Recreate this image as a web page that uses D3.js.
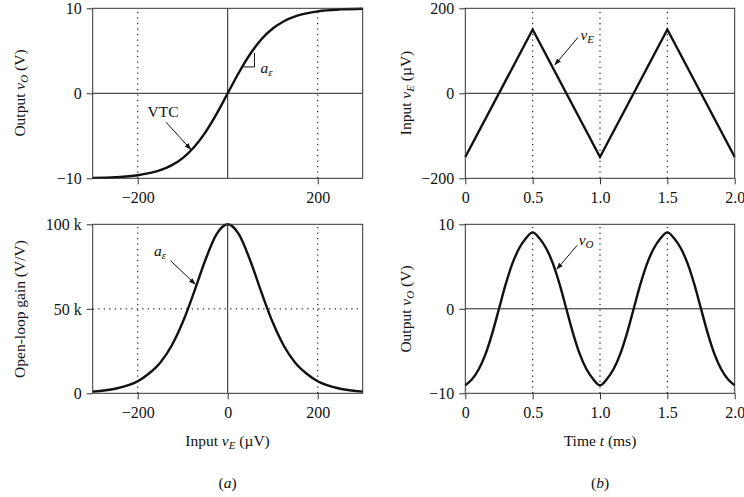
<!DOCTYPE html>
<html>
<head>
<meta charset="utf-8">
<script src="https://cdn.jsdelivr.net/npm/d3@7"></script>
<style>
  body { margin: 0; background: #fff; }
  svg { font-family: "Liberation Serif", "Times New Roman", serif; }
  .frame { fill: none; stroke: #333; stroke-width: 1; }
  .tick line { stroke: #333; }
  .tick text { font-size: 16px; fill: #111; font-family: "Liberation Serif", serif; }
  .dotted { stroke: #333; stroke-width: 1.3; stroke-dasharray: 1.3 4.2; }
  .zero { stroke: #222; stroke-width: 1; }
  .curve { fill: none; stroke: #111; stroke-width: 2.4; }
  .label { font-size: 15.5px; fill: #111; }
</style>
</head>
<body>
<div id="chart"></div>
<script>
// VTC (a) top: input vE (µV) -> output vO (V)
const vtcInput = [-300, -250, -200, -175, -150, -125, -100, -75, -50, -25, 0, 25, 50, 75, 100, 125, 150, 175, 200, 250, 300];
const vtcOutput = [-9.95, -9.87, -9.64, -9.4, -9.05, -8.48, -7.62, -6.35, -4.62, -2.45, 0, 2.45, 4.62, 6.35, 7.62, 8.48, 9.05, 9.4, 9.64, 9.87, 9.95];

// open-loop gain (k V/V) at the same inputs
const gainValues = [1.0, 2.7, 7.1, 11.7, 18.1, 28.0, 42.0, 59.7, 78.6, 94.0, 100, 94.0, 78.6, 59.7, 42.0, 28.0, 18.1, 11.7, 7.1, 2.7, 1.0];

// panel (b): triangular input and resulting output vs time (ms)
const triTime = [0, 0.5, 1.0, 1.5, 2.0];
const triInput = [-150, 150, -150, 150, -150];
const outTime = [0, 0.05, 0.1, 0.15, 0.2, 0.25, 0.3, 0.35, 0.4, 0.45, 0.5,
                 0.55, 0.6, 0.65, 0.7, 0.75, 0.8, 0.85, 0.9, 0.95, 1.0,
                 1.05, 1.1, 1.15, 1.2, 1.25, 1.3, 1.35, 1.4, 1.45, 1.5,
                 1.55, 1.6, 1.65, 1.7, 1.75, 1.8, 1.85, 1.9, 1.95, 2.0];
const outValues = [-9.05, -8.34, -7.16, -5.37, -2.91, 0, 2.91, 5.37, 7.16, 8.34, 9.05,
                   8.34, 7.16, 5.37, 2.91, 0, -2.91, -5.37, -7.16, -8.34, -9.05,
                   -8.34, -7.16, -5.37, -2.91, 0, 2.91, 5.37, 7.16, 8.34, 9.05,
                   8.34, 7.16, 5.37, 2.91, 0, -2.91, -5.37, -7.16, -8.34, -9.05];

const inputTicks = [-200, 200];
const inputTicksBottom = [-200, 0, 200];
const timeTicks = [0, 0.5, 1.0, 1.5, 2.0];

const width = 744, height = 497;
const svg = d3.select('#chart').append('svg')
    .attr('width', width)
    .attr('height', height);

const defs = svg.append('defs');
defs.append('marker')
    .attr('id', 'arrow')
    .attr('viewBox', '0 0 10 10')
    .attr('refX', 9).attr('refY', 5)
    .attr('markerWidth', 7).attr('markerHeight', 7)
    .attr('markerUnits', 'userSpaceOnUse')
    .attr('orient', 'auto')
  .append('path')
    .attr('d', 'M0,1.5 L10,5 L0,8.5 Z')
    .attr('fill', '#111');

// left / right columns, top / bottom rows
const colA = [92.7, 362.7], colB = [465.3, 734.7];
const rowTop = [178.3, 8.3], rowBot = [393.3, 224.3];

function panel(xRange, yRange, xDomain, yDomain, xTicks, yTicks, yFormat, xFormat) {
    const x = d3.scaleLinear().domain(xDomain).range(xRange);
    const y = d3.scaleLinear().domain(yDomain).range(yRange);
    const g = svg.append('g');

    g.append('g')
        .attr('transform', 'translate(0,' + yRange[0] + ')')
        .call(d3.axisBottom(x).tickValues(xTicks).tickSize(6).tickPadding(7).tickFormat(xFormat))
        .attr('font-family', null).attr('font-size', null)
        .call(a => a.select('.domain').remove());

    g.append('g')
        .attr('transform', 'translate(' + xRange[0] + ',0)')
        .call(d3.axisLeft(y).tickValues(yTicks).tickSize(6).tickPadding(5).tickFormat(yFormat))
        .attr('font-family', null).attr('font-size', null)
        .call(a => a.select('.domain').remove())
        .selectAll('.tick text').attr('dy', '0.34em');

    return { g, x, y };
}

function finish(p) {
    const [x0, x1] = p.x.range(), [y0, y1] = p.y.range();
    p.g.append('rect')
        .attr('class', 'frame')
        .attr('x', x0).attr('y', y1)
        .attr('width', x1 - x0).attr('height', y0 - y1);
}

function vline(p, v, cls) {
    p.g.append('line').attr('class', cls)
        .attr('x1', p.x(v)).attr('x2', p.x(v))
        .attr('y1', p.y.range()[0]).attr('y2', p.y.range()[1]);
}
function hline(p, v, cls) {
    p.g.append('line').attr('class', cls)
        .attr('x1', p.x.range()[0]).attr('x2', p.x.range()[1])
        .attr('y1', p.y(v)).attr('y2', p.y(v));
}

function arrow(p, from, to) {
    p.g.append('line')
        .attr('x1', p.x(from[0])).attr('y1', p.y(from[1]))
        .attr('x2', p.x(to[0])).attr('y2', p.y(to[1]))
        .attr('stroke', '#111').attr('stroke-width', 1)
        .attr('marker-end', 'url(#arrow)');
}

// label like "v_E" with italic main letter and subscript
function subLabel(sel, main, sub, subItalic) {
    sel.append('tspan').attr('font-style', 'italic').text(main);
    sel.append('tspan').attr('font-size', '11px').attr('dy', 3)
        .attr('font-style', subItalic ? 'italic' : null).text(sub);
}

function yTitle(x, yMid, build) {
    const t = svg.append('text').attr('class', 'label')
        .attr('transform', 'translate(' + x + ',' + yMid + ') rotate(-90)')
        .attr('text-anchor', 'middle');
    build(t);
}

const fmtTime = d => d === 0 ? '0' : d3.format('.1f')(d);
const fmtMinus = d => d < 0 ? '\u2212' + Math.abs(d) : String(d);

// ---- (a) top: VTC ----
const pA1 = panel(colA, rowTop, [-300, 300], [-10, 10], inputTicks, [-10, 0, 10], fmtMinus, fmtMinus);
inputTicks.forEach(v => vline(pA1, v, 'dotted'));
vline(pA1, 0, 'zero');
hline(pA1, 0, 'zero');
pA1.g.append('path')
    .datum(d3.zip(vtcInput, vtcOutput))
    .attr('class', 'curve')
    .attr('d', d3.line().x(d => pA1.x(d[0])).y(d => pA1.y(d[1])).curve(d3.curveMonotoneX));
finish(pA1);
pA1.g.append('text').attr('class', 'label')
    .attr('x', pA1.x(-178)).attr('y', pA1.y(-2.75)).text('VTC');
arrow(pA1, [-137, -3.4], [-82, -6.6]);
pA1.g.append('path')
    .attr('d', d3.line()([[pA1.x(35), pA1.y(3.1)], [pA1.x(59.5), pA1.y(3.1)], [pA1.x(59.5), pA1.y(4.75)]]))
    .attr('fill', 'none').attr('stroke', '#111').attr('stroke-width', 1);
subLabel(pA1.g.append('text').attr('class', 'label').attr('font-size', '16px')
    .attr('x', pA1.x(73)).attr('y', pA1.y(2.4)), 'a', '\u03b5', true);

// ---- (a) bottom: gain ----
const pA2 = panel(colA, rowBot, [-300, 300], [0, 100], inputTicksBottom, [0, 50, 100],
    d => d === 0 ? '0' : d + ' k', fmtMinus);
inputTicks.forEach(v => vline(pA2, v, 'dotted'));
hline(pA2, 50, 'dotted');
vline(pA2, 0, 'zero');
pA2.g.append('path')
    .datum(d3.zip(vtcInput, gainValues))
    .attr('class', 'curve')
    .attr('d', d3.line().x(d => pA2.x(d[0])).y(d => pA2.y(d[1])).curve(d3.curveMonotoneX));
finish(pA2);
subLabel(pA2.g.append('text').attr('class', 'label').attr('font-size', '16px')
    .attr('x', pA2.x(-164)).attr('y', pA2.y(81.5)), 'a', '\u03b5', true);
arrow(pA2, [-127, 78.5], [-72, 64.5]);

// ---- (b) top: triangular input ----
const pB1 = panel(colB, rowTop, [0, 2], [-200, 200], timeTicks, [-200, 0, 200], fmtMinus, fmtTime);
[0.5, 1.0, 1.5].forEach(v => vline(pB1, v, 'dotted'));
hline(pB1, 0, 'zero');
pB1.g.append('path')
    .datum(d3.zip(triTime, triInput))
    .attr('class', 'curve')
    .attr('stroke-linejoin', 'miter')
    .attr('d', d3.line().x(d => pB1.x(d[0])).y(d => pB1.y(d[1])));
finish(pB1);
subLabel(pB1.g.append('text').attr('class', 'label').attr('font-size', '16px')
    .attr('x', pB1.x(0.855)).attr('y', pB1.y(125)), 'v', 'E', true);
arrow(pB1, [0.835, 131], [0.665, 67]);

// ---- (b) bottom: output ----
const pB2 = panel(colB, rowBot, [0, 2], [-10, 10], timeTicks, [-10, 0, 10], fmtMinus, fmtTime);
[0.5, 1.0, 1.5].forEach(v => vline(pB2, v, 'dotted'));
hline(pB2, 0, 'zero');
pB2.g.append('path')
    .datum(d3.zip(outTime, outValues))
    .attr('class', 'curve')
    .attr('d', d3.line().x(d => pB2.x(d[0])).y(d => pB2.y(d[1])).curve(d3.curveMonotoneX));
finish(pB2);
subLabel(pB2.g.append('text').attr('class', 'label').attr('font-size', '16px')
    .attr('x', pB2.x(0.842)).attr('y', pB2.y(7.6)), 'v', 'O', true);
arrow(pB2, [0.83, 7.5], [0.68, 4.7]);

// ---- axis titles ----
yTitle(25, 93, t => {
    t.append('tspan').text('Output ');
    subLabel(t, 'v', 'O', true);
    t.append('tspan').attr('dy', -3).text(' (V)');
});
yTitle(25, 309, t => t.text('Open-loop gain (V/V)'));
yTitle(411, 93, t => {
    t.append('tspan').text('Input ');
    subLabel(t, 'v', 'E', true);
    t.append('tspan').attr('dy', -3).text(' (\u00b5V)');
});
yTitle(411, 309, t => {
    t.append('tspan').text('Output ');
    subLabel(t, 'v', 'O', true);
    t.append('tspan').attr('dy', -3).text(' (V)');
});

const xt1 = svg.append('text').attr('class', 'label')
    .attr('x', 227.5).attr('y', 446).attr('text-anchor', 'middle');
xt1.append('tspan').text('Input ');
subLabel(xt1, 'v', 'E', true);
xt1.append('tspan').attr('dy', -3).text(' (\u00b5V)');

const xt2 = svg.append('text').attr('class', 'label')
    .attr('x', 600).attr('y', 446).attr('text-anchor', 'middle');
xt2.append('tspan').text('Time ');
xt2.append('tspan').attr('font-style', 'italic').text('t');
xt2.append('tspan').text(' (ms)');

[['(', 'a', ')', 227.5], ['(', 'b', ')', 600]].forEach(([l, c, r, x]) => {
    const t = svg.append('text').attr('class', 'label')
        .attr('x', x).attr('y', 488).attr('text-anchor', 'middle');
    t.append('tspan').text(l);
    t.append('tspan').attr('font-style', 'italic').text(c);
    t.append('tspan').text(r);
});
</script>
</body>
</html>
